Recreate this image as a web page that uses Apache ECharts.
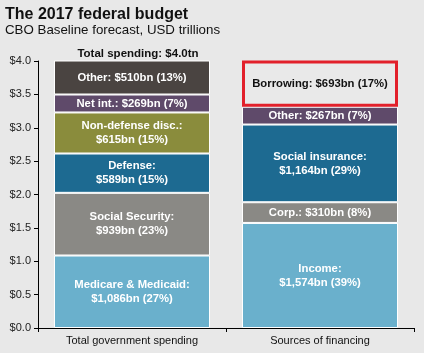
<!DOCTYPE html>
<html>
<head>
<meta charset="utf-8">
<script src="https://cdn.jsdelivr.net/npm/echarts@6/dist/echarts.min.js"></script>
<style>
html,body{margin:0;padding:0;background:#e8e8e8;}
#c{width:424px;height:353px;}
</style>
</head>
<body>
<div id="c"></div>
<script>
var categories = ['Total government spending', 'Sources of financing'];
var yTicks = [0, 0.5, 1.0, 1.5, 2.0, 2.5, 3.0, 3.5, 4.0];

// Spending segments (USD trillions), bottom to top
var spendNames = ['Medicare & Medicaid:\n$1,086bn (27%)', 'Social Security:\n$939bn (23%)', 'Defense:\n$589bn (15%)', 'Non-defense disc.:\n$615bn (15%)', 'Net int.: $269bn (7%)', 'Other: $510bn (13%)'];
var spendValues = [1.086, 0.939, 0.589, 0.615, 0.269, 0.510];
var spendColors = ['#6ab0cc', '#8a8985', '#1d6a91', '#8a8c3c', '#5f4a6a', '#4a4441'];

// Financing segments (USD trillions), bottom to top
var finNames = ['Income:\n$1,574bn (39%)', 'Corp.: $310bn (8%)', 'Social insurance:\n$1,164bn (29%)', 'Other: $267bn (7%)', 'Borrowing: $693bn (17%)'];
var finValues = [1.574, 0.310, 1.164, 0.267, 0.693];
var finColors = ['#6ab0cc', '#8a8985', '#1d6a91', '#5f4a6a', '#e9e9e9'];

var font = 'Arial, "Liberation Sans", sans-serif';
var series = [];
spendValues.forEach(function (v, i) {
  series.push({
    type: 'bar', stack: 'total', barWidth: 156,
    data: [v, '-'],
    itemStyle: { color: spendColors[i], borderColor: '#ffffff', borderWidth: 1 },
    label: { show: true, position: 'inside', formatter: spendNames[i], color: '#ffffff', fontWeight: 'bold', fontSize: 11.3, lineHeight: 14, fontFamily: font },
    emphasis: { disabled: true }
  });
});
finValues.forEach(function (v, i) {
  var isBorrow = i === finValues.length - 1;
  series.push({
    type: 'bar', stack: 'total', barWidth: 156,
    data: ['-', v],
    itemStyle: isBorrow ? { color: finColors[i], borderColor: '#e2202b', borderWidth: 3 } : { color: finColors[i], borderColor: '#ffffff', borderWidth: 1 },
    label: { show: true, position: 'inside', formatter: finNames[i], color: isBorrow ? '#111111' : '#ffffff', fontWeight: 'bold', fontSize: 11.3, lineHeight: 14, fontFamily: font },
    emphasis: { disabled: true }
  });
});

var chart = echarts.init(document.getElementById('c'));
chart.setOption({
  backgroundColor: '#e8e8e8',
  animation: false,
  textStyle: { fontFamily: font },
  title: [
    { text: 'The 2017 federal budget', left: 0, top: 2, textStyle: { fontSize: 16, fontWeight: 'bold', color: '#111', fontFamily: font } },
    { text: 'CBO Baseline forecast, USD trillions', left: 0, top: 19, textStyle: { fontSize: 13.3, fontWeight: 'normal', color: '#111', fontFamily: font } },
    { text: 'Total spending: $4.0tn', left: 133, textAlign: 'center', top: 43, textStyle: { fontSize: 11.5, fontWeight: 'bold', color: '#111', fontFamily: font } }
  ],
  grid: { left: 38, right: 10, top: 61, bottom: 25 },
  xAxis: {
    type: 'category', data: categories,
    axisLine: { lineStyle: { color: '#000', width: 1 } },
    axisTick: { show: true, length: 4, interval: 0, lineStyle: { color: '#000' } },
    axisLabel: { color: '#111', fontSize: 11, margin: 7, fontFamily: font }
  },
  yAxis: {
    type: 'value', min: 0, max: 4, interval: 0.5,
    axisLine: { show: true, lineStyle: { color: '#000', width: 1 } },
    axisTick: { show: true, length: 4, lineStyle: { color: '#000' } },
    splitLine: { show: false },
    axisLabel: { color: '#222', fontSize: 11, margin: 7, fontFamily: font, formatter: function (v) { return '$' + v.toFixed(1); } }
  },
  series: series
});
</script>
</body>
</html>
